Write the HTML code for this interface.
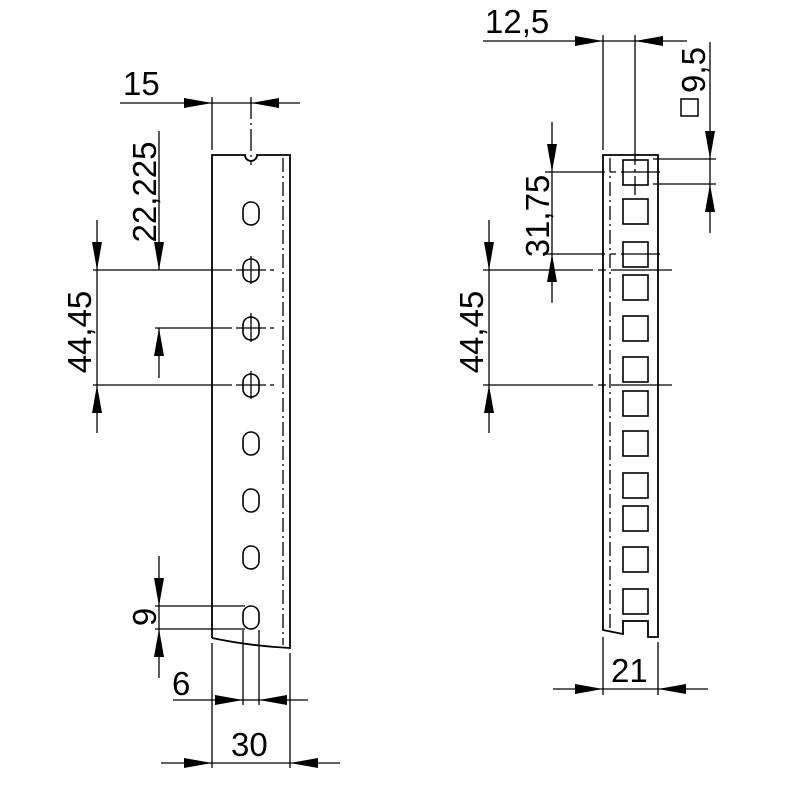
<!DOCTYPE html>
<html><head><meta charset="utf-8"><style>html,body{margin:0;padding:0;background:#fff}svg{display:block}</style></head>
<body>
<svg width="800" height="800" viewBox="0 0 800 800" xmlns="http://www.w3.org/2000/svg" font-family="Liberation Sans, sans-serif" font-size="33" fill="none" stroke="#000">
<defs>
<marker id="a" viewBox="0 0 28 10" refX="28" refY="5" markerWidth="28" markerHeight="10" markerUnits="userSpaceOnUse" orient="auto"><path d="M0 0 L28 5 L0 10 Z" fill="#000" stroke="none"/></marker>
</defs>
<g stroke-width="1.3">
<!-- LEFT RAIL -->
<path d="M212 638 L212 155 L245 155 A6 6 0 0 0 257 155 L290 155 L290 648 Q250 646 212 638" stroke-width="1.8"/>
<line x1="283" y1="158" x2="283" y2="645" stroke-dasharray="14,4,2,4"/>
<g stroke-width="1.6">
<rect x="243" y="202" width="16" height="23" rx="8"/>
<rect x="243" y="259" width="16" height="23" rx="8"/>
<rect x="243" y="317" width="16" height="23" rx="8"/>
<rect x="243" y="374" width="16" height="23" rx="8"/>
<rect x="243" y="432" width="16" height="23" rx="8"/>
<rect x="243" y="489" width="16" height="23" rx="8"/>
<rect x="243" y="546" width="16" height="23" rx="8"/>
<rect x="243" y="606" width="16" height="23" rx="8"/>
</g>
<line x1="251" y1="97" x2="251" y2="165" stroke-dasharray="22,4,2,4"/>
<line x1="251" y1="256" x2="251" y2="284"/><line x1="251" y1="313" x2="251" y2="342"/><line x1="251" y1="371" x2="251" y2="399"/>
<line x1="93" y1="270" x2="232" y2="270"/><line x1="236" y1="270" x2="266" y2="270"/><line x1="270" y1="270" x2="274" y2="270"/>
<line x1="155" y1="328" x2="232" y2="328"/><line x1="236" y1="328" x2="266" y2="328"/><line x1="270" y1="328" x2="274" y2="328"/>
<line x1="93" y1="385" x2="232" y2="385"/><line x1="236" y1="385" x2="266" y2="385"/><line x1="270" y1="385" x2="274" y2="385"/>
<!-- dim 15 -->
<line x1="212" y1="97" x2="212" y2="150"/>
<line x1="120" y1="103" x2="212" y2="103" marker-end="url(#a)"/>
<line x1="212" y1="103" x2="251" y2="103"/>
<line x1="300" y1="103" x2="251" y2="103" marker-end="url(#a)"/>
<!-- 22,225 -->
<line x1="159" y1="131" x2="159" y2="270" marker-end="url(#a)"/>
<line x1="159" y1="378" x2="159" y2="328" marker-end="url(#a)"/>
<!-- 44,45 -->
<line x1="97" y1="220" x2="97" y2="270" marker-end="url(#a)"/>
<line x1="97" y1="270" x2="97" y2="385"/>
<line x1="97" y1="433" x2="97" y2="385" marker-end="url(#a)"/>
<!-- 9 -->
<line x1="155" y1="606" x2="245" y2="606"/><line x1="155" y1="629" x2="245" y2="629"/>
<line x1="159" y1="556" x2="159" y2="606" marker-end="url(#a)"/>
<line x1="159" y1="606" x2="159" y2="629"/>
<line x1="159" y1="678" x2="159" y2="629" marker-end="url(#a)"/>
<!-- 6 -->
<line x1="243" y1="630" x2="243" y2="705"/><line x1="259" y1="630" x2="259" y2="705"/>
<line x1="173" y1="700" x2="243" y2="700" marker-end="url(#a)"/>
<line x1="243" y1="700" x2="259" y2="700"/>
<line x1="308" y1="700" x2="259" y2="700" marker-end="url(#a)"/>
<!-- 30 -->
<line x1="212" y1="643" x2="212" y2="768"/><line x1="290" y1="653" x2="290" y2="768"/>
<line x1="161" y1="763" x2="212" y2="763" marker-end="url(#a)"/>
<line x1="212" y1="763" x2="290" y2="763"/>
<line x1="340" y1="763" x2="290" y2="763" marker-end="url(#a)"/>

<!-- RIGHT RAIL -->
<path d="M603 630 L603 155 L658 155 L658 637 L648 637 L648 621 L623 621 L623 634 Z" stroke-width="1.8"/>
<line x1="610" y1="158" x2="610" y2="628" stroke-dasharray="14,4,2,4"/>
<g stroke-width="1.6">
<rect x="623" y="160" width="25" height="25"/><rect x="623" y="199" width="25" height="25"/>
<rect x="623" y="242" width="25" height="25"/><rect x="623" y="275" width="25" height="25"/>
<rect x="623" y="316" width="25" height="25"/><rect x="623" y="357" width="25" height="25"/>
<rect x="623" y="391" width="25" height="25"/><rect x="623" y="431" width="25" height="25"/>
<rect x="623" y="473" width="25" height="25"/><rect x="623" y="506" width="25" height="25"/>
<rect x="623" y="547" width="25" height="25"/><rect x="623" y="589" width="25" height="25"/>
</g>
<line x1="483" y1="270" x2="672" y2="270" stroke-dasharray="110,5,8,5"/>
<line x1="483" y1="385" x2="672" y2="385" stroke-dasharray="110,5,8,5"/>
<line x1="545" y1="172" x2="660" y2="172" stroke-dasharray="60,5,6,5,40"/>
<line x1="545" y1="254" x2="660" y2="254" stroke-dasharray="60,5,6,5,40"/>
<!-- 12,5 -->
<line x1="603" y1="35" x2="603" y2="150"/>
<line x1="635" y1="35" x2="635" y2="195" stroke-dasharray="130,4,3,4,30"/>
<line x1="483" y1="41" x2="603" y2="41" marker-end="url(#a)"/>
<line x1="603" y1="41" x2="635" y2="41"/>
<line x1="687" y1="41" x2="635" y2="41" marker-end="url(#a)"/>
<!-- 9,5 -->
<line x1="653" y1="159" x2="716" y2="159"/><line x1="653" y1="184" x2="716" y2="184"/>
<line x1="710" y1="42" x2="710" y2="159" marker-end="url(#a)"/>
<line x1="710" y1="159" x2="710" y2="184"/>
<line x1="710" y1="233" x2="710" y2="184" marker-end="url(#a)"/>
<!-- 31,75 -->
<line x1="552" y1="122" x2="552" y2="172" marker-end="url(#a)"/>
<line x1="552" y1="172" x2="552" y2="254"/>
<line x1="552" y1="303" x2="552" y2="254" marker-end="url(#a)"/>
<!-- 44,45 right -->
<line x1="489" y1="220" x2="489" y2="270" marker-end="url(#a)"/>
<line x1="489" y1="270" x2="489" y2="385"/>
<line x1="489" y1="433" x2="489" y2="385" marker-end="url(#a)"/>
<!-- 21 -->
<line x1="603" y1="637" x2="603" y2="695"/><line x1="658" y1="642" x2="658" y2="695"/>
<line x1="553" y1="689" x2="603" y2="689" marker-end="url(#a)"/>
<line x1="603" y1="689" x2="658" y2="689"/>
<line x1="708" y1="689" x2="658" y2="689" marker-end="url(#a)"/>
</g>
<g fill="#000" stroke="none">
<text x="123" y="95">15</text>
<text transform="translate(156,192) rotate(-90)" text-anchor="middle">22,225</text>
<text transform="translate(91,332) rotate(-90)" text-anchor="middle">44,45</text>
<text transform="translate(156,617) rotate(-90)" text-anchor="middle">9</text>
<text x="172" y="695">6</text>
<text x="231" y="756">30</text>
<text x="485" y="33">12,5</text>
<text transform="translate(705,70) rotate(-90)" text-anchor="middle">9,5</text>
<text transform="translate(549,216) rotate(-90)" text-anchor="middle">31,75</text>
<text transform="translate(483,332) rotate(-90)" text-anchor="middle">44,45</text>
<text x="611" y="682">21</text>
</g>
<rect x="681" y="99" width="17" height="17" fill="none" stroke="#000" stroke-width="1.5"/>
</svg>
</body></html>
